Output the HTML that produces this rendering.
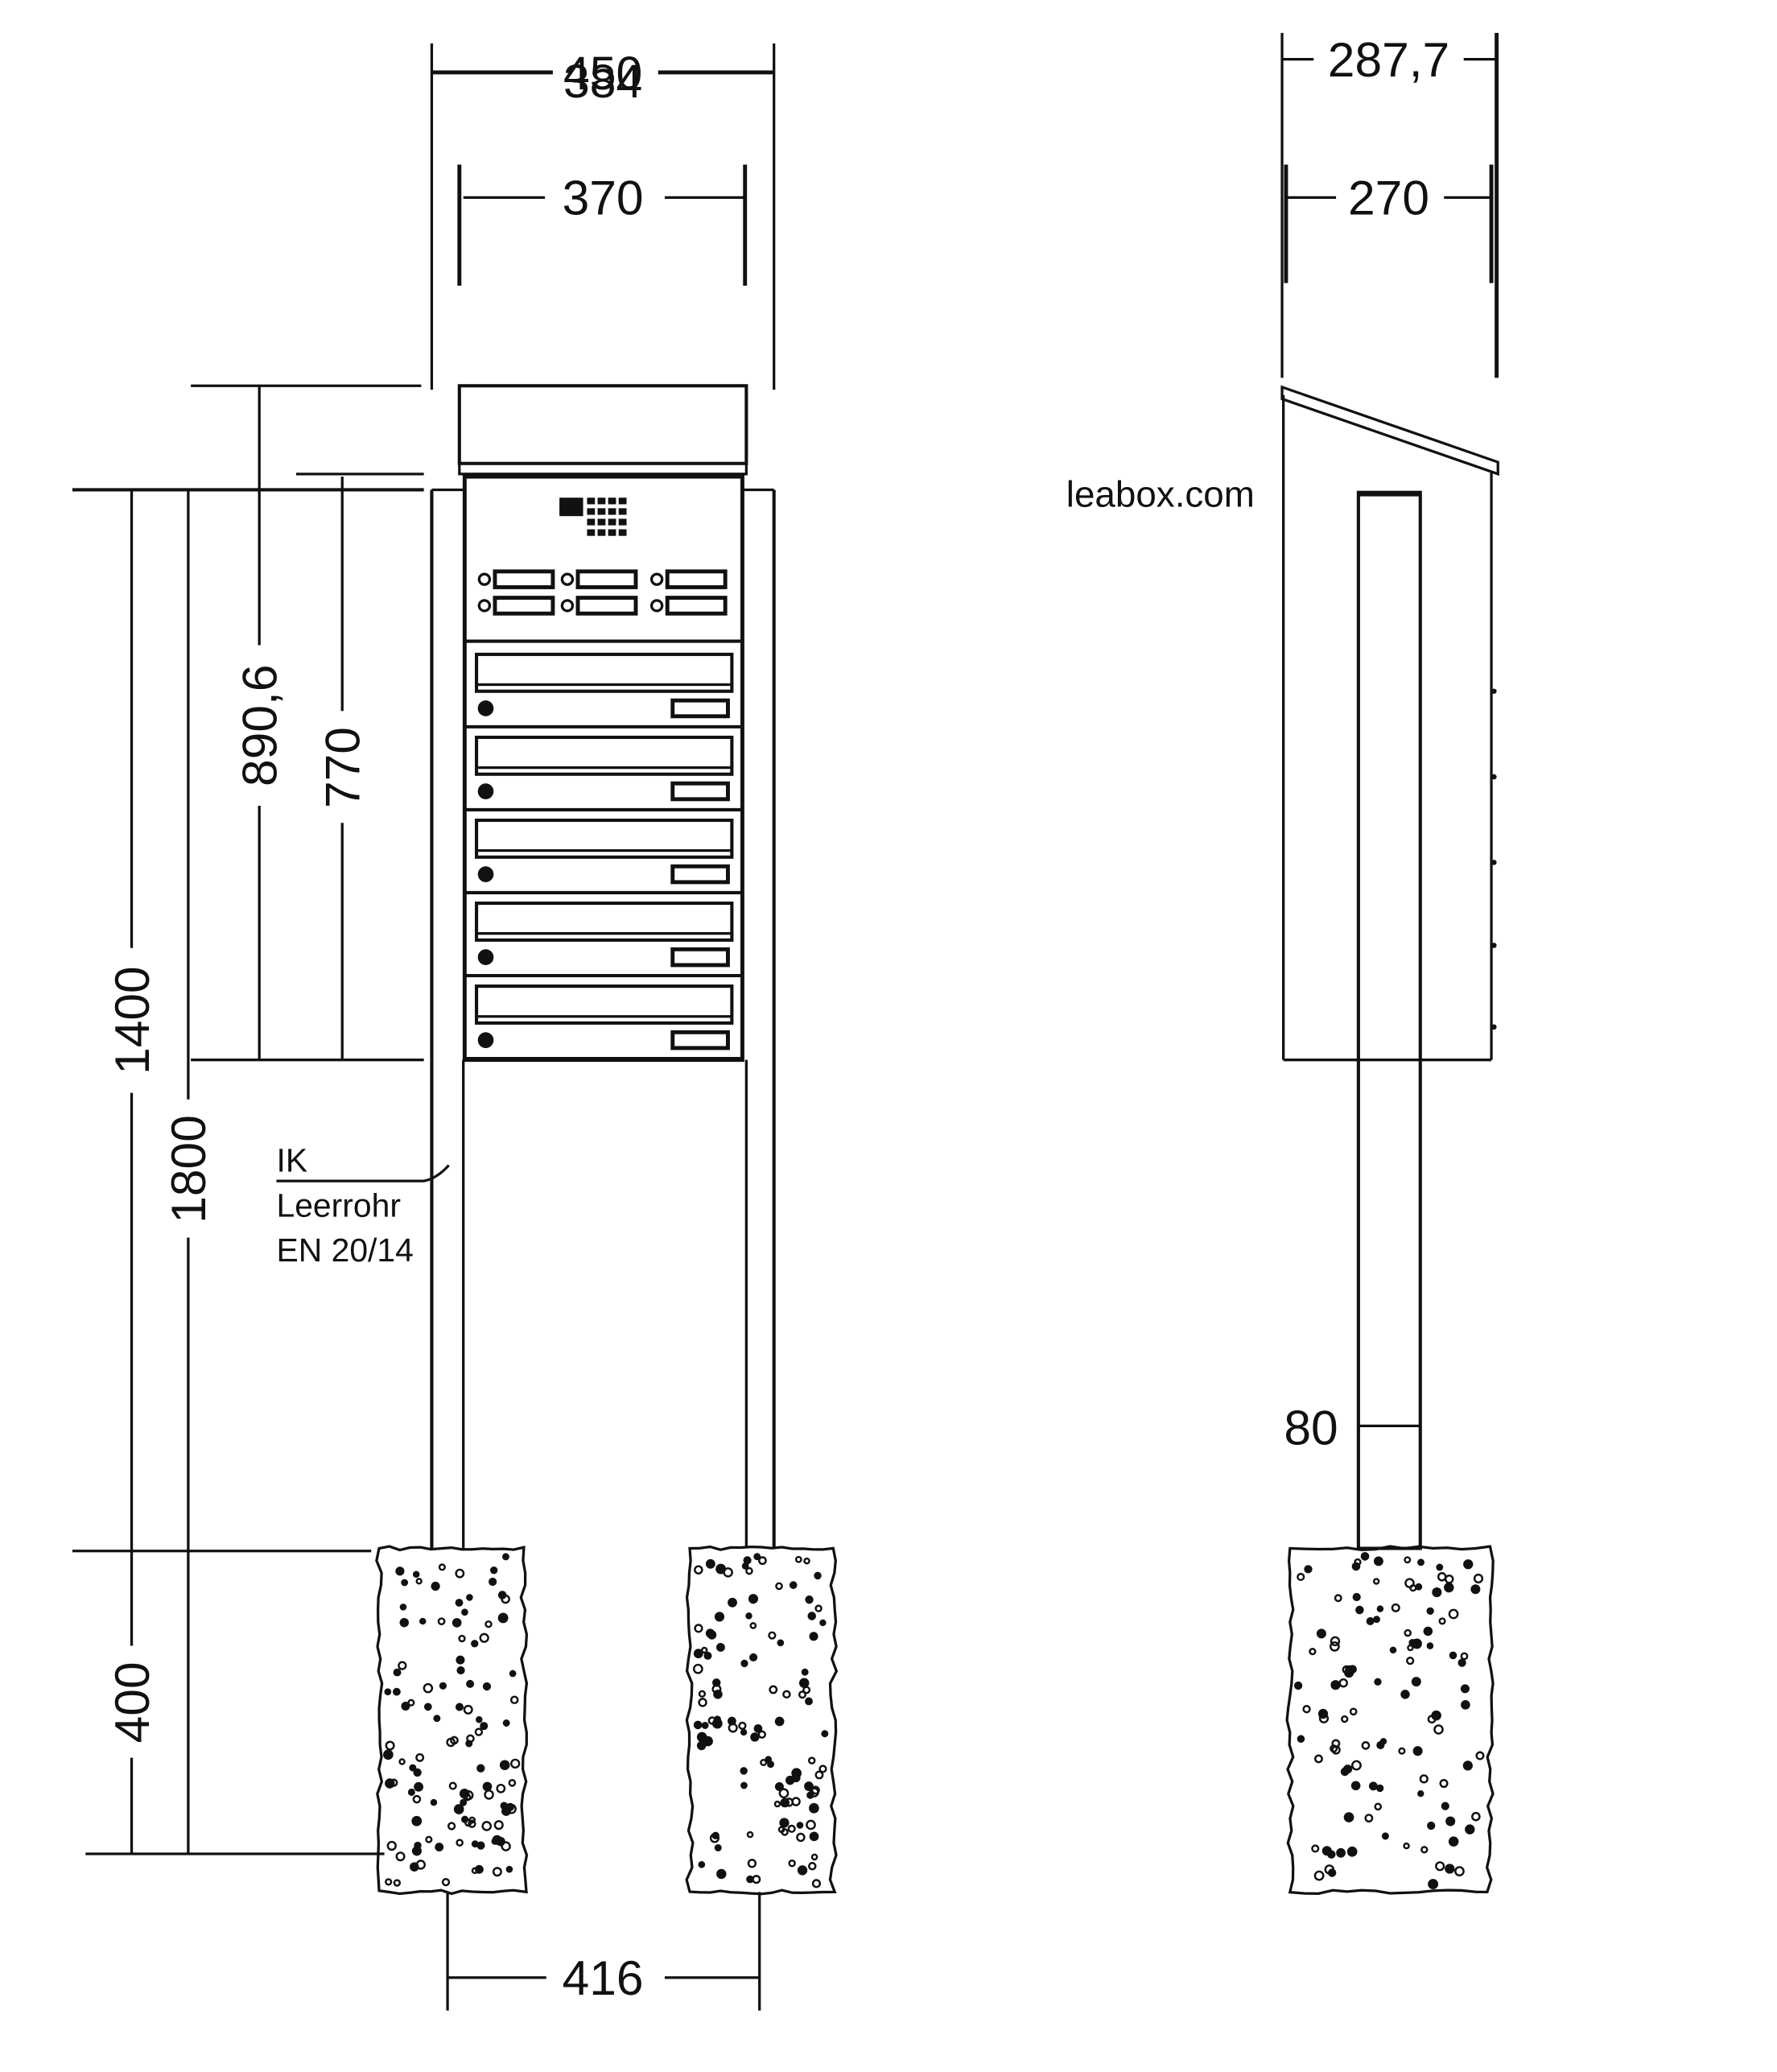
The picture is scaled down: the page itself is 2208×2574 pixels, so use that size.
<!DOCTYPE html>
<html><head><meta charset="utf-8"><style>
html,body{margin:0;padding:0;background:#fff;width:2208px;height:2574px;overflow:hidden}
svg{display:block}
text{font-family:"Liberation Sans",sans-serif;fill:#111}
</style></head><body>
<svg id="s" width="2208" height="2574" viewBox="0 0 1350 1573.7" preserveAspectRatio="none" xmlns="http://www.w3.org/2000/svg">
<g stroke="#111" fill="none" stroke-width="2">
<!-- top dims front -->
<line x1="328" y1="33" x2="328" y2="296"/><line x1="588" y1="33" x2="588" y2="296"/>
<line x1="349" y1="125" x2="349" y2="217" stroke-width="3"/><line x1="566" y1="125" x2="566" y2="217" stroke-width="3"/>
<line x1="328" y1="55" x2="420" y2="55" stroke-width="3"/><line x1="500" y1="55" x2="588" y2="55" stroke-width="3"/>
<line x1="352" y1="150" x2="414" y2="150"/><line x1="505" y1="150" x2="565" y2="150"/>
<!-- top box -->
<rect x="349" y="293" width="218" height="59" stroke-width="2.5"/>
<rect x="349" y="352" width="218" height="8" stroke-width="2"/>
<!-- posts -->
<line x1="328" y1="372" x2="328" y2="1176" stroke-width="2.5"/>
<line x1="352" y1="805" x2="352" y2="1176"/>
<line x1="328" y1="372" x2="352" y2="372"/>
<line x1="588" y1="372" x2="588" y2="1176" stroke-width="2.5"/>
<line x1="567" y1="805" x2="567" y2="1176"/>
<line x1="564" y1="372" x2="588" y2="372"/>
<!-- cabinet -->
<rect x="353" y="362" width="211" height="443" stroke-width="3"/>
<line x1="353" y1="487" x2="564" y2="487" stroke-width="2.5"/>
<!-- ext lines left -->
<line x1="145" y1="293" x2="320" y2="293"/>
<line x1="225" y1="360" x2="322" y2="360"/>
<line x1="55" y1="372" x2="322" y2="372" stroke-width="2.5"/>
<line x1="145" y1="805" x2="322" y2="805"/>
<line x1="55" y1="1178" x2="282" y2="1178"/>
<line x1="65" y1="1408" x2="292" y2="1408"/>
<!-- vertical dims -->
<line x1="197" y1="293" x2="197" y2="490"/><line x1="197" y1="612" x2="197" y2="805"/>
<line x1="260" y1="362" x2="260" y2="540"/><line x1="260" y1="625" x2="260" y2="805"/>
<line x1="100" y1="372" x2="100" y2="720"/><line x1="100" y1="830" x2="100" y2="1250"/><line x1="100" y1="1335" x2="100" y2="1408"/>
<line x1="143" y1="372" x2="143" y2="835"/><line x1="143" y1="940" x2="143" y2="1408"/>
<!-- 416 -->
<line x1="340" y1="1437" x2="340" y2="1527"/><line x1="577" y1="1437" x2="577" y2="1527"/>
<line x1="340" y1="1502" x2="415" y2="1502"/><line x1="505" y1="1502" x2="577" y2="1502"/>
<!-- IK leader -->
<path d="M210 897 L322 897 Q332 895 341 885"/>
<!-- side view dims -->
<line x1="974" y1="25" x2="974" y2="287"/><line x1="1137" y1="25" x2="1137" y2="287" stroke-width="3"/>
<line x1="977" y1="125" x2="977" y2="215" stroke-width="3"/><line x1="1133" y1="125" x2="1133" y2="215" stroke-width="3"/>
<line x1="974" y1="45" x2="998" y2="45"/><line x1="1112" y1="45" x2="1137" y2="45"/>
<line x1="977" y1="150" x2="1015" y2="150"/><line x1="1097" y1="150" x2="1133" y2="150"/>
<!-- side body -->
<line x1="975" y1="300" x2="975" y2="805"/>
<line x1="1133" y1="358" x2="1133" y2="805"/>
<line x1="975" y1="805" x2="1133" y2="805"/>
<polygon points="974,294 1138,351 1138,360 974,303" stroke-width="2"/>
<rect x="1032" y="374" width="47" height="802" stroke-width="2.5"/>
<line x1="1032" y1="375" x2="1079" y2="375" stroke-width="4"/>
<line x1="1032" y1="1083" x2="1079" y2="1083"/>
</g>
<g fill="#111">
<circle cx="1135" cy="525" r="2"/><circle cx="1135" cy="590" r="2"/><circle cx="1135" cy="655" r="2"/><circle cx="1135" cy="718" r="2"/><circle cx="1135" cy="780" r="2"/>
</g>
<g id="ctl" stroke="#111" fill="none" stroke-width="2"></g>
<g id="gr" stroke="#111" fill="none" stroke-width="2"></g>
<!-- texts -->
<text x="458" y="68" font-size="36" text-anchor="middle">450</text>
<text x="458" y="74" font-size="36" text-anchor="middle">384</text>
<text x="458" y="163" font-size="37" text-anchor="middle">370</text>
<text x="1055" y="58" font-size="37" text-anchor="middle">287,7</text>
<text x="1055" y="163" font-size="37" text-anchor="middle">270</text>
<text x="996" y="1097" font-size="37" text-anchor="middle">80</text>
<text x="458" y="1515" font-size="37" text-anchor="middle">416</text>
<text x="810" y="385" font-size="28">leabox.com</text>
<text x="210" y="890" font-size="25">IK</text>
<text x="210" y="924" font-size="25">Leerrohr</text>
<text x="210" y="958" font-size="25">EN 20/14</text>
<text transform="translate(210,551) rotate(-90)" font-size="37" text-anchor="middle">890,6</text>
<text transform="translate(273,583) rotate(-90)" font-size="37" text-anchor="middle">770</text>
<text transform="translate(113,775) rotate(-90)" font-size="37" text-anchor="middle">1400</text>
<text transform="translate(156,888) rotate(-90)" font-size="37" text-anchor="middle">1800</text>
<text transform="translate(113,1293) rotate(-90)" font-size="37" text-anchor="middle">400</text>
</svg>
<script>
var NS="http://www.w3.org/2000/svg";
function el(p,t,a){var e=document.createElementNS(NS,t);for(var k in a)e.setAttribute(k,a[k]);p.appendChild(e);return e;}
var c=document.getElementById('ctl');
// keypad
el(c,'rect',{x:426,y:379,width:16,height:12,fill:'#111'});
for(var r=0;r<4;r++)for(var q=0;q<4;q++)el(c,'rect',{x:446+q*8,y:378+r*8,width:6,height:5,fill:'#111',stroke:'none'});
// bells
[362,425,493].forEach(function(x){[440,460].forEach(function(y){
 el(c,'circle',{cx:x+6,cy:y,r:4});
 el(c,'rect',{x:x+14,y:y-6,width:44,height:12,'stroke-width':3});});});
// mailboxes
for(var i=0;i<5;i++){var t=490+i*63;
 el(c,'line',{x1:353,y1:t+62,x2:564,y2:t+62,'stroke-width':2.5});
 el(c,'rect',{x:362,y:t+7,width:194,height:28,'stroke-width':2.5});
 el(c,'line',{x1:362,y1:t+30,x2:556,y2:t+30});
 el(c,'circle',{cx:369,cy:t+48,r:5,fill:'#111'});
 el(c,'rect',{x:511,y:t+42,width:42,height:12,'stroke-width':3});}
// gravel blocks
var g=document.getElementById('gr');var seed=7;function rnd(){seed=(seed*16807)%2147483647;return seed/2147483647;}
function block(x1,x2,y1,y2){
 var d='M'+x1+' '+y1;var n=14,i;
 for(i=1;i<=n;i++)d+=' L'+(x1+(x2-x1)*i/n)+' '+(y1+(rnd()-0.5)*3);
 for(i=1;i<=n*2;i++)d+=' L'+(x2+(rnd()-0.5)*5)+' '+(y1+(y2-y1)*i/(n*2));
 for(i=n-1;i>=0;i--)d+=' L'+(x1+(x2-x1)*i/n)+' '+(y2+(rnd()-0.5)*3);
 for(i=n*2-1;i>0;i--)d+=' L'+(x1+(rnd()-0.5)*5)+' '+(y1+(y2-y1)*i/(n*2));
 el(g,'path',{d:d+'Z','stroke-width':2});
 for(i=0;i<110;i++){var cx=x1+6+rnd()*(x2-x1-12),cy=y1+6+rnd()*(y2-y1-12);
  el(g,'circle',{cx:cx,cy:cy,r:1.8+rnd()*1.4,fill:rnd()<0.6?'#111':'none','stroke-width':1.5});}}
block(288,398,1176,1437);block(524,633,1176,1437);block(980,1132,1176,1437);
</script>
</body></html>
